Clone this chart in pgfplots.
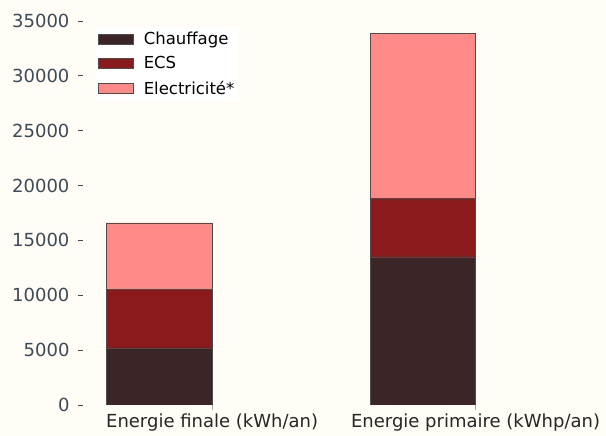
\documentclass[border=0pt]{standalone}
\usepackage{pgfplots}
\pgfplotsset{compat=1.18}
\usepackage{fontspec}
\setmainfont{DejaVu Sans}
\usetikzlibrary{backgrounds,calc}
\definecolor{chauf}{HTML}{3B2526}
\definecolor{ecs}{HTML}{8B1A1D}
\definecolor{elec}{HTML}{FF8A87}
\definecolor{ticklab}{HTML}{3D4A57}
\definecolor{bgc}{HTML}{FFFDF6}
\begin{document}
\begin{tikzpicture}[background rectangle/.style={fill=bgc}, show background rectangle, inner frame sep=0pt]
\begin{axis}[
  scale only axis, width=411pt, height=390pt,
  xmin=-0.49, xmax=1.07, ymin=0, ymax=35550,
  ybar stacked, bar width=0.4,
  axis line style={draw=none},
  xtick={0,1},
  xticklabels={Energie finale (kWh/an), Energie primaire (kWhp/an)},
  ytick={0,5000,...,35000},
  xtick pos=bottom, ytick pos=left,
  scaled y ticks=false,
  /pgf/number format/1000 sep={},
  /pgf/number format/assume math mode=true,
  tick align=outside, major tick length=5pt,
  xtick style={draw=gray!70, line width=0.6pt},
  ytick style={draw=ticklab, line width=0.8pt},
  yticklabel style={text=ticklab, xshift=-5pt},
  xticklabel style={text=black!85},
  font=\fontsize{18}{21}\selectfont,
  tick label style={font=\fontsize{18}{21}\selectfont},
  legend style={at={(0.03,0.967)}, anchor=north west, draw=none, fill=white,
    font=\fontsize{16.5}{19}\selectfont, row sep=6.5pt, inner sep=2pt},
  legend cell align=left,
  legend image code/.code={\draw[#1, bar width=0pt] (0pt,-5pt) rectangle (35pt,5pt); \path[draw=none, fill=none] (0pt,0pt) -- (44pt,0pt);},
]
\coordinate (sw) at (rel axis cs:0,0);
\coordinate (ne) at (rel axis cs:1,1);
\addplot[fill=chauf, draw=black!70, line width=0.5pt] coordinates {(-0.2,5200) (0.8,13450)};
\addlegendentry{Chauffage}
\addplot[fill=ecs, draw=black!70, line width=0.5pt] coordinates {(-0.2,5370) (0.8,5400)};
\addlegendentry{ECS}
\addplot[fill=elec, draw=black!70, line width=0.5pt] coordinates {(-0.2,6020) (0.8,15000)};
\addlegendentry{Electricité*}
\end{axis}
\pgfresetboundingbox
\path[use as bounding box] ($(sw)+(-83pt,-31pt)$) rectangle ($(ne)+(112pt,15pt)$);
\end{tikzpicture}
\end{document}
